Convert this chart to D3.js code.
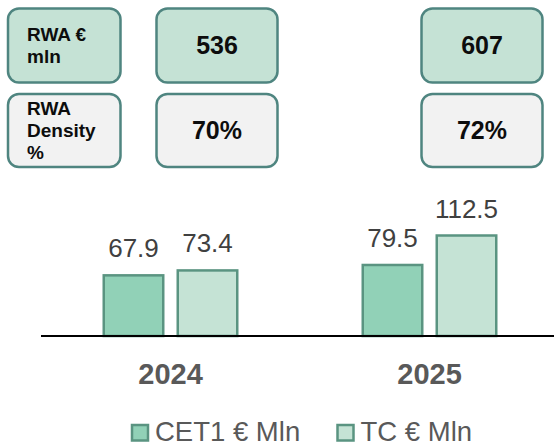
<!DOCTYPE html>
<html>
<head>
<meta charset="utf-8">
<script src="https://cdn.jsdelivr.net/npm/d3@7"></script>
<style>
  html, body { margin: 0; padding: 0; background: #fff; }
  svg { display: block; }
</style>
</head>
<body>
<svg id="chart" width="554" height="446"></svg>
<script>
// ---- data ----
const years = ["2024", "2025"];
const seriesNames = ["CET1 € Mln", "TC € Mln"];
const cet1 = [67.9, 79.5];
const tc = [73.4, 112.5];
const rwaLabel = ["RWA €", "mln"];
const densityLabel = ["RWA", "Density", "%"];
const rwa = [536, 607];
const density = ["70%", "72%"];

// ---- style ----
const W = 554, H = 446;
const colors = ["#91d1b7", "#c5e3d5"];
const barStroke = "#5a9481";
const boxStroke = "#4f8580";
const boxGreen = "#c5e2d5";
const boxGrey = "#f2f2f2";
const font = "'Liberation Sans', Arial, sans-serif";

const svg = d3.select("#chart");

// ---- scales ----
const baseY = 336;
const y = d3.scaleLinear().domain([0, 120]).range([baseY, baseY - 107.2]);
const x0 = d3.scaleBand().domain(years).range([41, 559]);
const half = 66.75;
const x1 = d3.scaleBand().domain(seriesNames)
  .range([x0.bandwidth() / 2 - half, x0.bandwidth() / 2 + half])
  .paddingInner(0.196);

const rows = years.map((yr, i) => ({ year: yr, values: [cet1[i], tc[i]] }));

// ---- bars ----
const g = svg.append("g");
const groups = g.selectAll("g.grp").data(rows).join("g")
  .attr("class", "grp")
  .attr("transform", d => `translate(${x0(d.year)},0)`);

groups.selectAll("rect").data(d => d.values.map((v, k) => ({ v, k })))
  .join("rect")
  .attr("x", d => x1(seriesNames[d.k]))
  .attr("y", d => y(d.v))
  .attr("width", x1.bandwidth())
  .attr("height", d => y(0) - y(d.v))
  .attr("fill", d => colors[d.k])
  .attr("stroke", barStroke)
  .attr("stroke-width", 2.5);

groups.selectAll("text.val").data(d => d.values.map((v, k) => ({ v, k })))
  .join("text")
  .attr("class", "val")
  .attr("x", d => x1(seriesNames[d.k]) + x1.bandwidth() / 2)
  .attr("y", d => y(d.v) - 18)
  .attr("text-anchor", "middle")
  .attr("font-family", font)
  .attr("font-size", 26)
  .attr("fill", "#404040")
  .text(d => d3.format(".1f")(d.v));

// ---- axis line ----
const xAxis = d3.axisBottom(x0).tickSize(0).tickPadding(28);
const axG = svg.append("g").attr("transform", `translate(0,${baseY})`).call(xAxis);
axG.select(".domain").attr("d", "M41,0H554").attr("stroke", "#000").attr("stroke-width", 2);
axG.selectAll(".tick text")
  .attr("font-family", font)
  .attr("font-size", 29)
  .attr("font-weight", "bold")
  .attr("fill", "#595959")
  .attr("dy", 0)
  .attr("y", 48);

// ---- info boxes ----
const boxesG = svg.append("g");
function box(x, yy, w, h, fill) {
  boxesG.append("rect")
    .attr("x", x).attr("y", yy).attr("width", w).attr("height", h)
    .attr("rx", 11).attr("ry", 11)
    .attr("fill", fill).attr("stroke", boxStroke).attr("stroke-width", 2.5);
}
const row1 = { y: 8.5, h: 74 };
const row2 = { y: 94, h: 73 };
// label column
box(8, row1.y, 112.5, row1.h, boxGreen);
box(8, row2.y, 112.5, row2.h, boxGrey);
const lab1 = boxesG.append("text").attr("font-family", font).attr("font-weight", "bold")
  .attr("font-size", 19).attr("fill", "#0d0d0d");
rwaLabel.forEach((t, i) => lab1.append("tspan").attr("x", 27).attr("y", 40.7 + i * 22.6).text(t));
const lab2 = boxesG.append("text").attr("font-family", font).attr("font-weight", "bold")
  .attr("font-size", 19).attr("fill", "#0d0d0d");
densityLabel.forEach((t, i) => lab2.append("tspan").attr("x", 27).attr("y", 115 + i * 22.2).text(t));

const valBoxX = [156.5, 421.5];
const valBoxW = 121;
years.forEach((yr, i) => {
  box(valBoxX[i], row1.y, valBoxW, row1.h, boxGreen);
  box(valBoxX[i], row2.y, valBoxW, row2.h, boxGrey);
  boxesG.append("text")
    .attr("x", valBoxX[i] + valBoxW / 2).attr("y", 54.3)
    .attr("text-anchor", "middle").attr("font-family", font).attr("font-weight", "bold")
    .attr("font-size", 25).attr("fill", "#0d0d0d").text(rwa[i]);
  boxesG.append("text")
    .attr("x", valBoxX[i] + valBoxW / 2).attr("y", 139.3)
    .attr("text-anchor", "middle").attr("font-family", font).attr("font-weight", "bold")
    .attr("font-size", 25).attr("fill", "#0d0d0d").text(density[i]);
});

// ---- legend ----
const legendX = [132, 337.5];
const leg = svg.append("g");
seriesNames.forEach((s, k) => {
  leg.append("rect")
    .attr("x", legendX[k]).attr("y", 425).attr("width", 16).attr("height", 15.5)
    .attr("fill", colors[k]).attr("stroke", barStroke).attr("stroke-width", 2.5);
  leg.append("text")
    .attr("x", legendX[k] + 23).attr("y", 440.5)
    .attr("font-family", font).attr("font-size", 27.5).attr("fill", "#595959")
    .text(s);
});
</script>
</body>
</html>
